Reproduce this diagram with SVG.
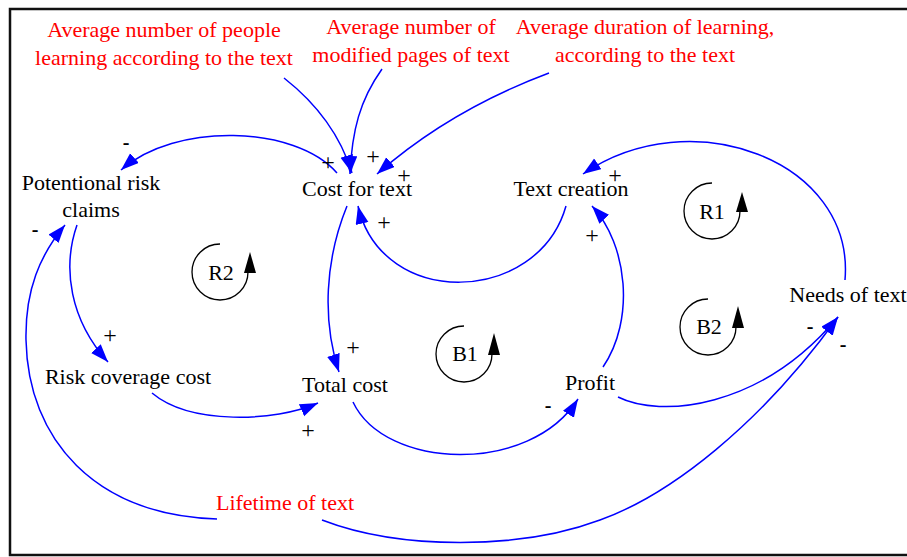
<svg xmlns="http://www.w3.org/2000/svg" width="907" height="557" viewBox="0 0 907 557">
<style>
.t{font-family:"Liberation Serif","Times New Roman",serif;font-size:22px;fill:#000;text-anchor:middle}
.r{fill:#f00}
.s{font-family:"Liberation Serif","Times New Roman",serif;font-size:24px;fill:#000;text-anchor:middle}
.m{font-size:20px;font-weight:bold}
.c{fill:none;stroke:#0000ff;stroke-width:1.5;marker-end:url(#a)}
.lp{fill:none;stroke:#000;stroke-width:1.3}
</style>
<defs>
<marker id="a" markerUnits="userSpaceOnUse" markerWidth="19" markerHeight="14" refX="18" refY="6.5" orient="auto" viewBox="0 0 19 14">
<path d="M0,0 L18,6.5 L0,13 z" fill="#0000ff"/>
</marker>
</defs>
<rect x="10" y="9" width="910" height="546" fill="#fff" stroke="#111" stroke-width="2.5"/>

<g id="connectors">
<path class="c" d="M284,78 Q335,118 352,173"/>
<path class="c" d="M382,69 C360,100 352,130 350,174"/>
<path class="c" d="M549,73 Q450,110 377,174"/>
<path class="c" d="M337,173 C295,125 175,122 121,170"/>
<path class="c" d="M77,225 C62,268 70,320 108,362"/>
<path class="c" d="M217,519 C95,515 28,440 26,340 C25,290 40,255 65,225"/>
<path class="c" d="M322,520 C400,550 520,550 600,520 C670,495 760,425 838,317"/>
<path class="c" d="M618,397 C660,418 760,410 838,317"/>
<path class="c" d="M845,280 C855,160 690,100 583,174"/>
<path class="c" d="M566,206 C538,305 382,310 358,206"/>
<path class="c" d="M347,206 C325,260 322,320 339,372"/>
<path class="c" d="M152,393 C190,425 275,422 318,403"/>
<path class="c" d="M353,402 C385,470 530,475 578,399"/>
<path class="c" d="M603,367 C635,320 628,245 592,206"/>
</g>

<g id="polarities">
<text class="s m" x="126" y="149">-</text>
<text class="s m" x="35" y="236">-</text>
<text class="s" x="110" y="343">+</text>
<text class="s" x="328" y="170">+</text>
<text class="s" x="373" y="164">+</text>
<text class="s" x="404" y="183">+</text>
<text class="s" x="384" y="230">+</text>
<text class="s" x="353" y="355">+</text>
<text class="s" x="308" y="438">+</text>
<text class="s m" x="548" y="412">-</text>
<text class="s" x="592" y="243">+</text>
<text class="s" x="615" y="183">+</text>
<text class="s m" x="810" y="333">-</text>
<text class="s m" x="843" y="351">-</text>
</g>

<g id="avg-people"><text class="t r" x="164" y="37">Average number of people</text><text class="t r" x="164" y="65">learning according to the text</text></g>
<g id="avg-pages"><text class="t r" x="411" y="34">Average number of</text><text class="t r" x="411" y="62">modified pages of text</text></g>
<g id="avg-duration"><text class="t r" x="645" y="34">Average duration of learning,</text><text class="t r" x="645" y="62">according to the text</text></g>
<g id="risk-claims"><text class="t" x="91" y="190">Potentional risk</text><text class="t" x="91" y="217">claims</text></g>
<g id="cost-for-text"><text class="t" x="357" y="196">Cost for text</text></g>
<g id="text-creation"><text class="t" x="571" y="196">Text creation</text></g>
<g id="risk-coverage"><text class="t" x="128" y="384">Risk coverage cost</text></g>
<g id="total-cost"><text class="t" x="345" y="392">Total cost</text></g>
<g id="profit"><text class="t" x="590" y="390">Profit</text></g>
<g id="needs"><text class="t" x="848" y="302">Needs of text</text></g>
<g id="lifetime"><text class="t r" x="285" y="510">Lifetime of text</text></g>

<g id="loop-R2"><path class="lp" d="M220,244 A28,28 0 1 0 248,272"/><path d="M250,252 L244,273 L256,273 z"/><text class="t" x="221" y="280">R2</text></g>
<g id="loop-R1"><path class="lp" d="M712,183 A28,28 0 1 0 740,211"/><path d="M742,192 L736,212 L748,212 z"/><text class="t" x="712" y="219">R1</text></g>
<g id="loop-B1"><path class="lp" d="M464,326 A28,28 0 1 0 492,354"/><path d="M494,333 L488,355 L500,355 z"/><text class="t" x="465" y="361">B1</text></g>
<g id="loop-B2"><path class="lp" d="M708,299 A28,28 0 1 0 736,327"/><path d="M738,306 L732,328 L744,328 z"/><text class="t" x="709" y="334">B2</text></g>
</svg>
